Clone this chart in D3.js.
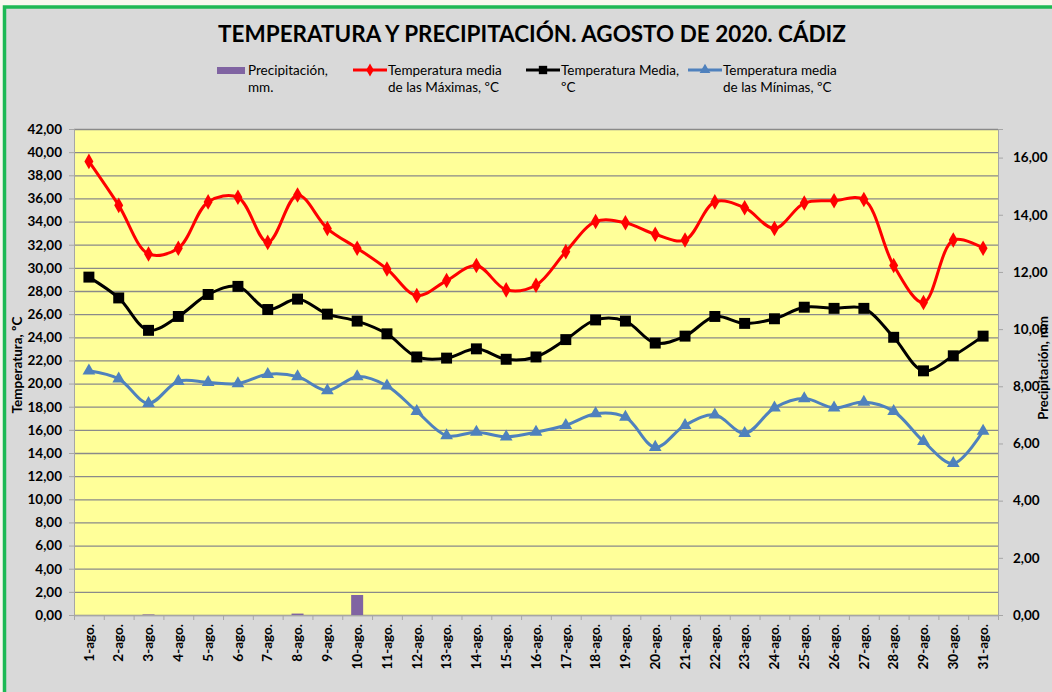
<!DOCTYPE html>
<html>
<head>
<meta charset="utf-8">
<script src="https://cdn.jsdelivr.net/npm/d3@7"></script>
<style>
  body { margin: 0; background: #f7f8ee; }
  svg { display: block; font-family: Lato, "Liberation Sans", sans-serif; }
</style>
</head>
<body>
<div id="chart-area"></div>
<script>
// Data
const dias = ["1-ago.", "2-ago.", "3-ago.", "4-ago.", "5-ago.", "6-ago.", "7-ago.", "8-ago.",
    "9-ago.", "10-ago.", "11-ago.", "12-ago.", "13-ago.", "14-ago.", "15-ago.", "16-ago.",
    "17-ago.", "18-ago.", "19-ago.", "20-ago.", "21-ago.", "22-ago.", "23-ago.", "24-ago.",
    "25-ago.", "26-ago.", "27-ago.", "28-ago.", "29-ago.", "30-ago.", "31-ago."];

const precipitacion = [0, 0, 0.02, 0, 0, 0, 0, 0.05, 0, 0.7, 0, 0, 0, 0, 0, 0,
    0, 0, 0, 0, 0, 0, 0, 0, 0, 0, 0, 0, 0, 0, 0];

const tMaximas = [39.2, 35.4, 31.2, 31.7, 35.7, 36.1, 32.2, 36.3, 33.4, 31.7, 29.9, 27.6,
    28.9, 30.2, 28.1, 28.5, 31.4, 34.0, 33.9, 32.9, 32.4, 35.7, 35.2, 33.4, 35.6, 35.8,
    35.9, 30.2, 27.0, 32.4, 31.7];

const tMedia = [29.2, 27.4, 24.6, 25.8, 27.7, 28.4, 26.4, 27.3, 26.0, 25.4, 24.3, 22.3,
    22.2, 23.0, 22.1, 22.3, 23.8, 25.5, 25.4, 23.5, 24.1, 25.8, 25.2, 25.6, 26.6, 26.5,
    26.5, 24.0, 21.1, 22.4, 24.1];

const tMinimas = [21.1, 20.4, 18.3, 20.2, 20.1, 20.0, 20.8, 20.6, 19.4, 20.6, 19.8, 17.6,
    15.5, 15.8, 15.4, 15.8, 16.4, 17.4, 17.1, 14.5, 16.4, 17.3, 15.7, 17.9, 18.7, 17.9,
    18.4, 17.6, 15.0, 13.1, 15.9];

const ticksTemp = d3.range(0, 43, 2);
const ticksPrec = d3.range(0, 17, 2);

// Layout
const W = 1052, H = 692;
const plot = { left: 74, right: 998, top: 129, bottom: 615 };
const width = plot.right - plot.left,
    height = plot.bottom - plot.top;

const es = d3.formatLocale({ decimal: ",", thousands: ".", grouping: [3], currency: ["", "€"] });
const fmt = es.format(".2f");

const svg = d3.select("#chart-area").append("svg")
    .attr("width", W)
    .attr("height", H);

// frame
svg.append("rect")
    .attr("x", 4.5).attr("y", 7)
    .attr("width", W + 50).attr("height", H + 50)
    .attr("fill", "#d9d9d9")
    .attr("stroke", "#1db954")
    .attr("stroke-width", 3.5);

// title, stretched to the width it has in the picture
const title = svg.append("text")
    .attr("x", 532).attr("y", 42)
    .attr("text-anchor", "middle")
    .attr("font-weight", "bold")
    .attr("font-size", 20)
    .attr("fill", "#000")
    .text("TEMPERATURA Y PRECIPITACIÓN. AGOSTO DE 2020. CÁDIZ");
const tw = title.node().getComputedTextLength();
title.attr("font-size", 20 * 628 / tw);

// Scales
const x = d3.scaleBand().domain(dias).range([plot.left, plot.right]);
const y = d3.scaleLinear().domain([0, 42]).range([plot.bottom, plot.top]);
const y2 = d3.scaleLinear().domain([0, 17]).range([plot.bottom, plot.top]);

// plot background
svg.append("rect")
    .attr("x", plot.left).attr("y", plot.top)
    .attr("width", width).attr("height", height)
    .attr("fill", "#ffff99");

// gridlines
svg.append("g")
    .attr("transform", "translate(" + plot.left + ",0)")
    .call(d3.axisLeft(y).tickValues(ticksTemp).tickSize(-width).tickFormat(""))
    .call(g => g.select(".domain").remove())
    .selectAll("line")
    .attr("stroke", "#8a8a8a")
    .attr("stroke-width", 1.3);

// right border of plot
svg.append("line")
    .attr("x1", plot.right + 0.5).attr("x2", plot.right + 0.5)
    .attr("y1", plot.top).attr("y2", plot.bottom)
    .attr("stroke", "#a6a6a6");

// Left axis
const yAxis = svg.append("g")
    .attr("transform", "translate(" + plot.left + ",0)")
    .call(d3.axisLeft(y).tickValues(ticksTemp).tickSize(5).tickPadding(7).tickFormat(fmt));
yAxis.select(".domain").attr("stroke", "#a6a6a6");
yAxis.selectAll("line").attr("stroke", "#a6a6a6");
yAxis.selectAll("text")
    .attr("font-size", 13.5).attr("font-weight", "bold").attr("fill", "#000")
    .attr("font-family", "Lato, sans-serif");

// Right axis
const y2Axis = svg.append("g")
    .attr("transform", "translate(" + plot.right + ",0)")
    .call(d3.axisRight(y2).tickValues(ticksPrec).tickSize(5).tickPadding(10).tickFormat(fmt));
y2Axis.select(".domain").attr("stroke", "#a6a6a6");
y2Axis.selectAll("line").attr("stroke", "#a6a6a6");
y2Axis.selectAll("text")
    .attr("font-size", 13.5).attr("font-weight", "bold").attr("fill", "#000")
    .attr("font-family", "Lato, sans-serif");

// X axis
const xAxis = svg.append("g")
    .attr("transform", "translate(0," + plot.bottom + ")")
    .call(d3.axisBottom(x).tickSize(0).tickPadding(0));
xAxis.select(".domain").attr("stroke", "#a6a6a6");
xAxis.selectAll("text")
    .attr("transform", "rotate(-90)")
    .attr("text-anchor", "end")
    .attr("x", -9).attr("y", 0).attr("dy", "0.35em")
    .attr("font-size", 13.5).attr("font-weight", "bold").attr("fill", "#000")
    .attr("font-family", "Lato, sans-serif");
// tick marks between categories
xAxis.selectAll(".sep")
    .data(dias.concat(["end"]))
    .enter().append("line")
    .attr("class", "sep")
    .attr("x1", (d, i) => plot.left + i * x.step() + 0.5)
    .attr("x2", (d, i) => plot.left + i * x.step() + 0.5)
    .attr("y1", 0).attr("y2", 5)
    .attr("stroke", "#a6a6a6");

// Axis titles
svg.append("text")
    .attr("transform", "translate(22,365) rotate(-90)")
    .attr("text-anchor", "middle")
    .attr("font-size", 13.5).attr("font-weight", "bold")
    .text("Temperatura, ºC");
svg.append("text")
    .attr("transform", "translate(1048,368) rotate(-90)")
    .attr("text-anchor", "middle")
    .attr("font-size", 13).attr("font-weight", "bold")
    .text("Precipitación, mm");

// Precipitation bars
svg.append("g").selectAll("rect")
    .data(precipitacion)
    .enter().append("rect")
    .attr("x", (d, i) => x(dias[i]) + x.bandwidth() / 2 - 6)
    .attr("y", d => y2(d))
    .attr("width", 12)
    .attr("height", d => plot.bottom - y2(d))
    .attr("fill", "#8064a2");

// Lines
const line = d3.line()
    .x((d, i) => x(dias[i]) + x.bandwidth() / 2)
    .y(d => y(d))
    .curve(d3.curveCatmullRom.alpha(0.5));

const series = [
    { values: tMaximas, color: "#ff0000", marker: d3.symbolDiamond, size: 70 },
    { values: tMedia, color: "#000000", marker: d3.symbolSquare, size: 120 },
    { values: tMinimas, color: "#4f81bd", marker: d3.symbolTriangle, size: 70 }
];

series.forEach(s => {
    svg.append("path")
        .attr("d", line(s.values))
        .attr("fill", "none")
        .attr("stroke", s.color)
        .attr("stroke-width", 3);
    svg.append("g").selectAll("path")
        .data(s.values)
        .enter().append("path")
        .attr("transform", (d, i) => "translate(" + (x(dias[i]) + x.bandwidth() / 2) + "," + y(d) + ")")
        .attr("d", d3.symbol().type(s.marker).size(s.size))
        .attr("fill", s.color);
});

// Legend
const legend = [
    { x: 217, lines: ["Precipitación,", "mm."], type: "bar", color: "#8064a2" },
    { x: 353, lines: ["Temperatura media", "de las Máximas, ºC"], type: "line", color: "#ff0000", marker: d3.symbolDiamond, size: 50 },
    { x: 526, lines: ["Temperatura Media,", "ºC"], type: "line", color: "#000000", marker: d3.symbolSquare, size: 70 },
    { x: 688, lines: ["Temperatura media", "de las Mínimas, ºC"], type: "line", color: "#4f81bd", marker: d3.symbolTriangle, size: 50 }
];

legend.forEach(l => {
    const g = svg.append("g").attr("transform", "translate(" + l.x + ",70)");
    if (l.type === "bar") {
        g.append("rect").attr("x", 0).attr("y", -3).attr("width", 28).attr("height", 7).attr("fill", l.color);
    } else {
        g.append("line").attr("x1", 0).attr("x2", 34).attr("y1", 0).attr("y2", 0)
            .attr("stroke", l.color).attr("stroke-width", 3);
        g.append("path").attr("transform", "translate(17,0)")
            .attr("d", d3.symbol().type(l.marker).size(l.size)).attr("fill", l.color);
    }
    g.selectAll("text")
        .data(l.lines)
        .enter().append("text")
        .attr("x", l.type === "bar" ? 31 : 35)
        .attr("y", (d, i) => 5 + i * 17)
        .attr("font-size", 13.5)
        .attr("fill", "#000")
        .text(d => d);
});
</script>
</body>
</html>
